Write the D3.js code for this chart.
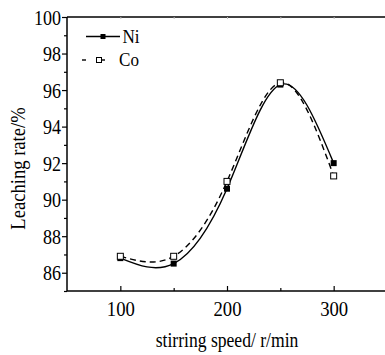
<!DOCTYPE html>
<html>
<head>
<meta charset="utf-8">
<script src="https://cdn.jsdelivr.net/npm/d3@7"></script>
<style>
  body { margin: 0; background: #fff; }
  svg text { font-family: 'Liberation Serif', 'DejaVu Serif', serif; fill: #000; }
</style>
</head>
<body>
<div id="chart"></div>
<script>
const speeds = [100, 150, 200, 250, 300];
const ni = [86.8, 86.5, 90.6, 96.3, 92.0];
const co = [86.9, 86.9, 91.0, 96.4, 91.3];
const xTicks = [100, 200, 300];
const yTicks = [86, 88, 90, 92, 94, 96, 98, 100];

const width = 385, height = 355;
const margin = {top: 17, right: -2, bottom: 64, left: 67};
const serif = "'Liberation Serif', 'DejaVu Serif', serif";

const svg = d3.select('#chart')
  .append('svg')
  .attr('width', width)
  .attr('height', height);

const x = d3.scaleLinear().domain([50, 350]).range([margin.left, width - margin.right]);
const y = d3.scaleLinear().domain([85, 100]).range([height - margin.bottom, margin.top]);

// frame: left, bottom, top
svg.append('line').attr('x1', x(50)).attr('x2', x(50)).attr('y1', y(85)).attr('y2', y(100))
  .attr('stroke', '#000').attr('stroke-width', 1.5);
svg.append('line').attr('x1', x(50)).attr('x2', x(350)).attr('y1', y(85)).attr('y2', y(85))
  .attr('stroke', '#000').attr('stroke-width', 1.5);
svg.append('line').attr('x1', x(50)).attr('x2', x(350)).attr('y1', y(100)).attr('y2', y(100))
  .attr('stroke', '#000').attr('stroke-width', 1.5);

// y axis (ticks outward)
const yAxis = svg.append('g').attr('transform', `translate(${x(50)},0)`)
  .call(d3.axisLeft(y).tickValues(yTicks).tickSize(5).tickPadding(2).tickFormat(d3.format('d')));
yAxis.attr('font-family', serif);
yAxis.select('.domain').remove();
yAxis.selectAll('text').style('font-size', '21px').attr('dy', '0.34em')
  .attr('transform', 'scale(0.86,1)').attr('x', -6 / 0.86);
yAxis.selectAll('line').attr('stroke-width', 1.2);
svg.append('g').attr('transform', `translate(${x(50)},0)`)
  .call(d3.axisLeft(y).tickValues(d3.range(85, 100, 2)).tickSize(3).tickFormat(''))
  .call(g => g.select('.domain').remove())
  .selectAll('line').attr('stroke-width', 1.2);

// x axis (ticks inward)
const xAxis = svg.append('g').attr('transform', `translate(0,${y(85)})`)
  .call(d3.axisBottom(x).tickValues(xTicks).tickSize(-5).tickPadding(9).tickFormat(d3.format('d')));
xAxis.attr('font-family', serif);
xAxis.select('.domain').remove();
xAxis.selectAll('text').style('font-size', '22px').attr('transform', 'scale(0.85,1)');
xAxis.selectAll('line').attr('stroke-width', 1.2);
svg.append('g').attr('transform', `translate(0,${y(85)})`)
  .call(d3.axisBottom(x).tickValues([150, 250]).tickSize(-3).tickFormat(''))
  .call(g => g.select('.domain').remove())
  .selectAll('line').attr('stroke-width', 1.2);
// top ticks
svg.append('g').attr('transform', `translate(0,${y(100)})`)
  .call(d3.axisTop(x).tickValues([100, 150, 200, 250, 300]).tickSize(-2).tickFormat(''))
  .call(g => g.select('.domain').remove())
  .selectAll('line').attr('stroke', '#bbb');

// axis titles
svg.append('text')
  .attr('transform', `translate(${(x(50) + x(350)) / 2},347) scale(0.88,1)`)
  .attr('text-anchor', 'middle').style('font-size', '20px')
  .text('stirring speed/ r/min');
svg.append('text')
  .attr('transform', 'translate(25,168.5) rotate(-90) scale(0.93,1)')
  .attr('text-anchor', 'middle').style('font-size', '20px')
  .text('Leaching rate/%');

// curves
const line = d3.line().x(d => x(d[0])).y(d => y(d[1])).curve(d3.curveNatural);
const niPts = speeds.map((s, i) => [s, ni[i]]);
const coPts = speeds.map((s, i) => [s, co[i]]);

svg.append('path').datum(niPts).attr('d', line)
  .attr('fill', 'none').attr('stroke', '#000').attr('stroke-width', 1.4);
svg.append('path').datum(coPts).attr('d', line)
  .attr('fill', 'none').attr('stroke', '#000').attr('stroke-width', 1.4)
  .attr('stroke-dasharray', '6,4');

const ms = 6;
svg.selectAll('.ni').data(niPts).join('rect').attr('class', 'ni')
  .attr('x', d => x(d[0]) - ms / 2).attr('y', d => y(d[1]) - ms / 2)
  .attr('width', ms).attr('height', ms).attr('fill', '#000');
svg.selectAll('.co').data(coPts).join('rect').attr('class', 'co')
  .attr('x', d => x(d[0]) - ms / 2).attr('y', d => y(d[1]) - ms / 2)
  .attr('width', ms).attr('height', ms).attr('fill', '#fff').attr('stroke', '#000').attr('stroke-width', 1);

// legend
const lg = svg.append('g');
lg.append('line').attr('x1', 86).attr('x2', 120).attr('y1', 36.5).attr('y2', 36.5)
  .attr('stroke', '#000').attr('stroke-width', 1.4);
lg.append('rect').attr('x', 103 - 2.5).attr('y', 36.5 - 2.5).attr('width', 5).attr('height', 5).attr('fill', '#000');
lg.append('text').attr('transform', 'translate(122.5,43) scale(0.9,1)').style('font-size', '19px').text('Ni');
lg.append('line').attr('x1', 82).attr('x2', 86).attr('y1', 60).attr('y2', 60)
  .attr('stroke', '#000').attr('stroke-width', 1.4);
lg.append('line').attr('x1', 101).attr('x2', 105).attr('y1', 60).attr('y2', 60)
  .attr('stroke', '#000').attr('stroke-width', 1.4);
lg.append('rect').attr('x', 99 - 2.5).attr('y', 60 - 2.5).attr('width', 5).attr('height', 5)
  .attr('fill', '#fff').attr('stroke', '#000').attr('stroke-width', 1);
lg.append('text').attr('transform', 'translate(119,66) scale(0.9,1)').style('font-size', '19px').text('Co');
</script>
</body>
</html>
